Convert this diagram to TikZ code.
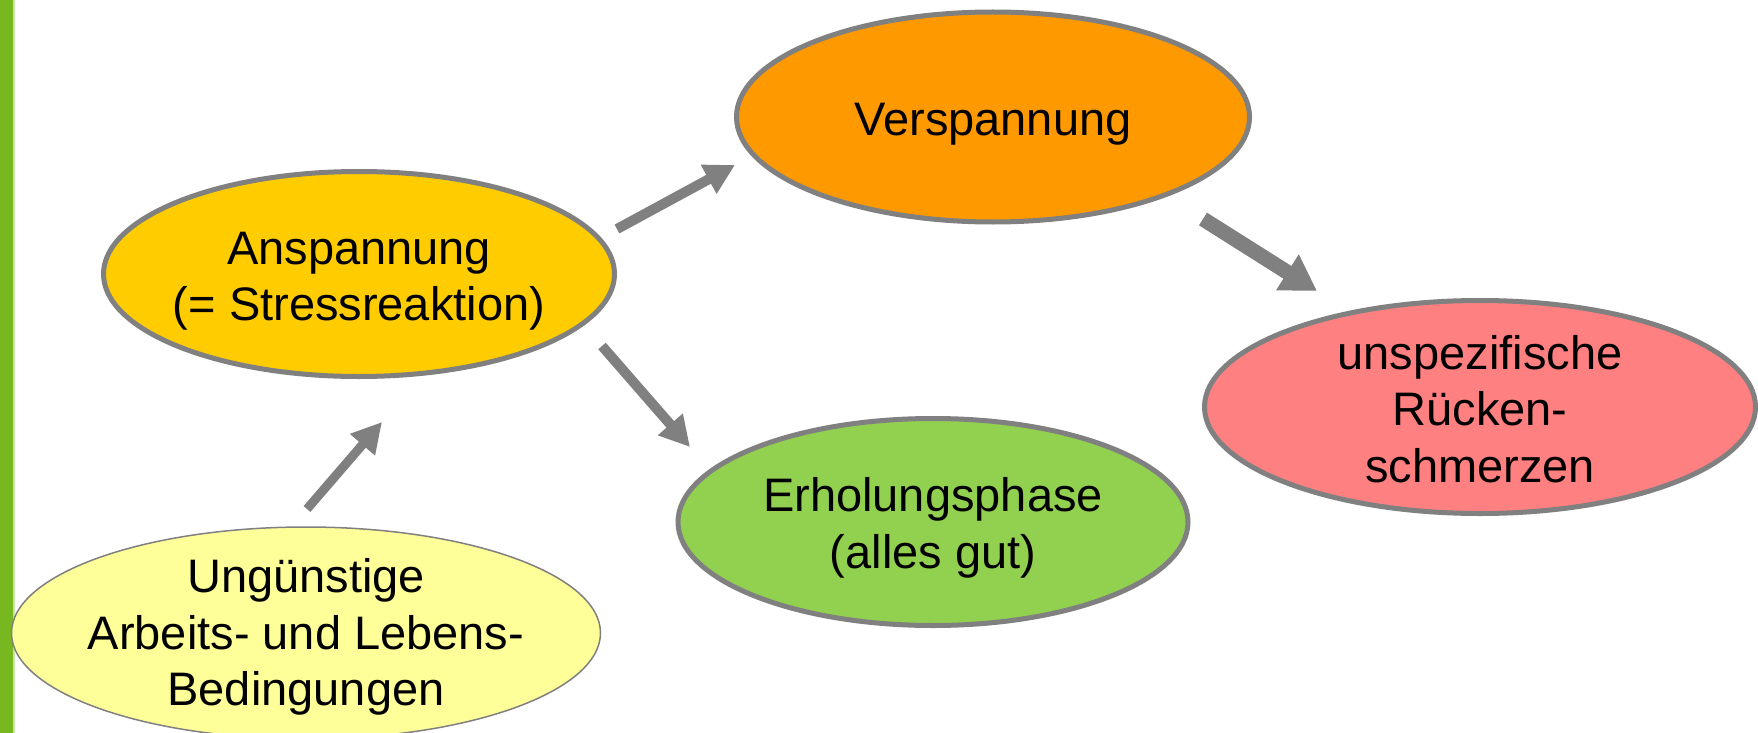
\documentclass[tikz,border=0pt]{standalone}
\usepackage{fontspec}
\setmainfont{Liberation Sans}
\usetikzlibrary{shapes.geometric,arrows.meta}
\definecolor{bargreen}{HTML}{77B71F}
\definecolor{edgegray}{HTML}{808080}
\definecolor{cOrange}{HTML}{FF9900}
\definecolor{cYellow}{HTML}{FFCC00}
\definecolor{cRed}{HTML}{FF8080}
\definecolor{cGreen}{HTML}{92D050}
\definecolor{cPale}{HTML}{FFFF99}
\tikzset{
  bubble/.style={ellipse, draw=edgegray, line width=5pt, inner sep=0pt},
  thinbubble/.style={bubble, line width=1.5pt},
  btext/.style={align=center, font=\fontsize{47}{56.5}\selectfont, inner sep=0pt},
  bigarrow/.style={draw=edgegray, line width=10pt, line cap=butt,
    -{Triangle[length=30pt,width=31pt]}},
  hugearrow/.style={draw=edgegray, line width=15pt, line cap=butt,
    -{Triangle[length=35pt,width=40pt]}}
}
\begin{document}
\begin{tikzpicture}[x=1pt,y=-1pt]
\useasboundingbox (0,0) rectangle (1758,733);
\fill[white] (0,0) rectangle (1758,733);
\fill[bargreen] (0,0) rectangle (13,733);
\fill[bargreen!40] (13,0) rectangle (15,733);

\node[bubble, fill=cOrange, minimum width=513pt, minimum height=210pt] (vers) at (993,117) {};
\node[btext, yshift=-7pt] (versT) at (vers.center) {Verspannung};
\node[bubble, fill=cYellow, minimum width=511pt, minimum height=205pt] (ansp) at (359,274) {};
\node[btext, yshift=-7pt] (anspT) at (ansp.center) {Anspannung\\(= Stressreaktion)};
\node[bubble, fill=cRed, minimum width=551pt, minimum height=213pt] (rueck) at (1480,407) {};
\node[btext, yshift=-2pt] (rueckT) at (rueck.center) {unspezifische\\Rücken-\\schmerzen};
\node[bubble, fill=cGreen, minimum width=510pt, minimum height=207pt] (erh) at (933,522) {};
\node[btext, yshift=-6pt] (erhT) at (erh.center) {Erholungsphase\\(alles gut)};
\node[thinbubble, fill=cPale, minimum width=589pt, minimum height=212pt] (ung) at (306,633) {};
\node[btext, yshift=-4pt] (ungT) at (ung.center) {Ungünstige\\Arbeits- und Lebens-\\Bedingungen};

\coordinate (a1s) at (617,229);
\coordinate (a1e) at (735,165);
\coordinate (a2s) at (1203,219);
\coordinate (a2e) at (1317,291);
\coordinate (a3s) at (602,346);
\coordinate (a3e) at (690,447);
\coordinate (a4s) at (307,509);
\coordinate (a4e) at (382,422);

\draw[bigarrow] (a1s) -- (a1e);
\draw[hugearrow] (a2s) -- (a2e);
\draw[bigarrow] (a3s) -- (a3e);
\draw[bigarrow, line width=9pt] (a4s) -- (a4e);
\end{tikzpicture}
\end{document}
